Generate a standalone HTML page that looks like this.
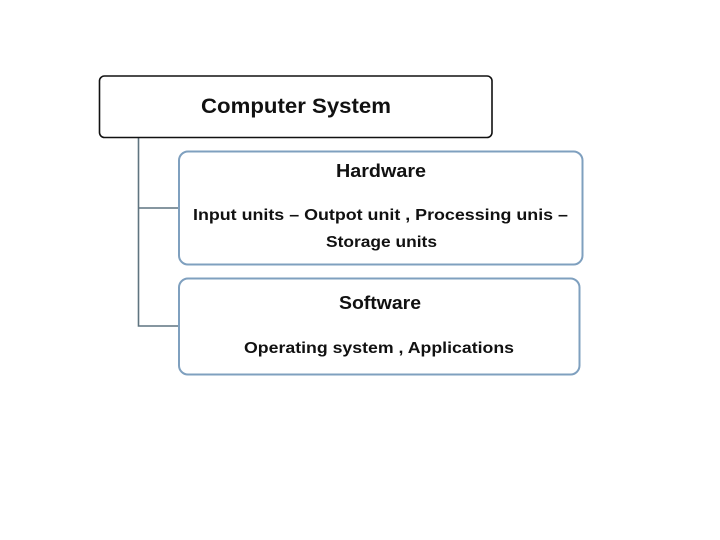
<!DOCTYPE html>
<html><head><meta charset="utf-8"><style>html,body{margin:0;padding:0;background:#fff}svg{display:block}</style></head>
<body>
<svg width="720" height="540" xmlns="http://www.w3.org/2000/svg" font-family="Liberation Sans, Arial, sans-serif" font-weight="bold" fill="#111">
<rect x="0" y="0" width="720" height="540" fill="#fff"/>
<path d="M138.5 138 V326 H179 M138.5 208 H179" stroke="#5f7480" stroke-width="1.6" fill="none"/>
<rect x="99.5" y="76" width="392.5" height="61.5" rx="5" fill="#fff" stroke="#111" stroke-width="1.6"/>
<rect x="179" y="151.5" width="403.5" height="113" rx="9" fill="#fff" stroke="#7fa0bf" stroke-width="2"/>
<rect x="179" y="278.5" width="400.5" height="96" rx="9" fill="#fff" stroke="#7fa0bf" stroke-width="2"/>
<text x="201" y="113" font-size="21" textLength="190" lengthAdjust="spacingAndGlyphs">Computer System</text>
<text x="336" y="177" font-size="18" textLength="90" lengthAdjust="spacingAndGlyphs">Hardware</text>
<text x="193" y="220" font-size="16" textLength="375" lengthAdjust="spacingAndGlyphs">Input units – Outpot unit , Processing unis –</text>
<text x="326" y="247" font-size="16" textLength="111" lengthAdjust="spacingAndGlyphs">Storage units</text>
<text x="339" y="309" font-size="18" textLength="82" lengthAdjust="spacingAndGlyphs">Software</text>
<text x="244" y="353" font-size="16" textLength="270" lengthAdjust="spacingAndGlyphs">Operating system , Applications</text>
</svg>
</body></html>
